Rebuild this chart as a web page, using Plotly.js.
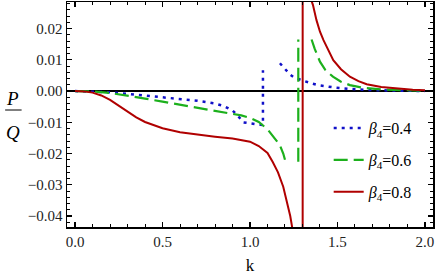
<!DOCTYPE html>
<html>
<head>
<meta charset="utf-8">
<script src="https://cdn.plot.ly/plotly-3.0.1.min.js"></script>
<style>html,body{margin:0;padding:0;background:#fff;}</style>
</head>
<body>
<div id="chart" style="width:436px;height:276px;"></div>
<script>
// beta4 = 0.4 (blue, dotted)
const kBlue = [0, 0.1, 0.2, 0.3, 0.4, 0.5, 0.6, 0.7, 0.8, 0.85, 0.9, 0.93, 0.96, 1.02, 1.074, 1.074, null,
  1.171, 1.19, 1.21, 1.23, 1.25, 1.27, 1.295, 1.343, 1.39, 1.474, 1.57, 1.7, 1.85, 2.0];
const pBlue = [0, -0.0001, -0.0004, -0.0009, -0.0014, -0.0020, -0.0025, -0.0031, -0.0040, -0.0048, -0.0062, -0.0078, -0.0100, -0.0105, -0.0109, 0.0067, null,
  0.0089, 0.0076, 0.0063, 0.0052, 0.0044, 0.0039, 0.0035, 0.0026, 0.0019, 0.0012, 0.0007, 0.0003, 0.0001, 0.0];

// beta4 = 0.6 (green, dashed)
const kGreen = [0, 0.1, 0.2, 0.3, 0.4, 0.5, 0.6, 0.7, 0.8, 0.9, 0.95, 1.0, 1.05, 1.1, 1.14, 1.17, 1.19, 1.205, null,
  1.276, 1.276, null,
  1.352, 1.37, 1.4, 1.43, 1.474, 1.52, 1.571, 1.65, 1.76, 1.88, 2.0];
const pGreen = [0, -0.0001, -0.0006, -0.0014, -0.0024, -0.0034, -0.0044, -0.0053, -0.0062, -0.0072, -0.0078, -0.0086, -0.0099, -0.0122, -0.0150, -0.0172, -0.0200, -0.0230, null,
  -0.0226, 0.0165, null,
  0.0165, 0.0135, 0.0094, 0.0068, 0.0046, 0.0030, 0.0019, 0.0010, 0.0005, 0.0002, 0.0001];

// beta4 = 0.8 (red, solid)
const kRed = [0, 0.05, 0.1, 0.15, 0.2, 0.25, 0.3, 0.35, 0.4, 0.45, 0.5, 0.6, 0.7, 0.8, 0.9, 0.95, 1.0, 1.05, 1.1, 1.13, 1.16, 1.19, 1.21, 1.23, 1.25, null,
  1.301, 1.301, null,
  1.345, 1.36, 1.38, 1.4, 1.42, 1.45, 1.476, 1.52, 1.571, 1.62, 1.667, 1.75, 1.857, 1.93, 2.0];
const pRed = [0, -0.0001, -0.0005, -0.0014, -0.0028, -0.0046, -0.0066, -0.0084, -0.0099, -0.0110, -0.0119, -0.0132, -0.0140, -0.0146, -0.0152, -0.0156, -0.0162, -0.0176, -0.0198, -0.0227, -0.0260, -0.0306, -0.0350, -0.0400, -0.0465, null,
  -0.050, 0.030, null,
  0.0300, 0.0275, 0.0227, 0.0190, 0.0163, 0.0127, 0.0099, 0.0070, 0.0046, 0.0032, 0.0022, 0.0013, 0.0007, 0.0004, 0.0003];

const seriesNames = ['<i>β</i><sub>4</sub>=0.4', '<i>β</i><sub>4</sub>=0.6', '<i>β</i><sub>4</sub>=0.8'];

const serif = '"Liberation Serif", "Times New Roman", serif';

const traces = [
  {x: kBlue, y: pBlue, mode: 'lines', name: seriesNames[0], legendgroup: 'a', connectgaps: false,
   line: {color: '#1010c8', width: 2.5, dash: '3px,5px'}},
  {x: kGreen, y: pGreen, mode: 'lines', name: seriesNames[1], legendgroup: 'b', connectgaps: false,
   line: {color: '#1cb01c', width: 2.2, dash: '14px,6px'}},
  {x: kRed, y: pRed, mode: 'lines', name: seriesNames[2], legendgroup: 'c', connectgaps: false,
   line: {color: '#b00000', width: 2}}
];

const layout = {
  width: 436, height: 276,
  margin: {l: 67, r: 3, t: 2, b: 49},
  paper_bgcolor: '#fff', plot_bgcolor: '#fff',
  font: {family: serif, size: 15, color: '#000'},
  showlegend: true,
  legend: {x: 0.715, y: 0.515, xanchor: 'left', yanchor: 'top', bgcolor: 'rgba(0,0,0,0)',
           font: {family: serif, size: 16, color: '#000'}, traceorder: 'grouped', tracegroupgap: 8, itemwidth: 30},
  xaxis: {
    range: [-0.046, 2.046], dtick: 0.5, tick0: 0, tickformat: '.1f',
    ticks: 'inside', ticklen: 5, tickwidth: 1.2, tickcolor: '#000',
    minor: {dtick: 0.1, ticks: 'inside', ticklen: 3, tickwidth: 1, tickcolor: '#000'},
    showline: true, linecolor: '#000', linewidth: 1.5, mirror: 'allticks',
    showgrid: false, zeroline: false,
    tickfont: {family: serif, size: 15, color: '#222'},
    title: {text: 'k', font: {family: serif, size: 17, color: '#000'}, standoff: 10}
  },
  yaxis: {
    range: [-0.0435, 0.0285], dtick: 0.01, tick0: 0, tickformat: '.2f',
    ticks: 'inside', ticklen: 5, tickwidth: 1.2, tickcolor: '#000',
    minor: {dtick: 0.002, ticks: 'inside', ticklen: 3, tickwidth: 1, tickcolor: '#000'},
    showline: true, linecolor: '#000', linewidth: 1.5, mirror: 'allticks',
    showgrid: false, zeroline: true, zerolinecolor: '#000', zerolinewidth: 1.6,
    tickfont: {family: serif, size: 15, color: '#222'}
  },
  annotations: [
    {text: '<i>P</i>', xref: 'paper', yref: 'paper', x: -0.149, y: 0.570, showarrow: false,
     font: {family: serif, size: 19, color: '#000'}, xanchor: 'center', yanchor: 'middle'},
    {text: '<i>Q</i>', xref: 'paper', yref: 'paper', x: -0.147, y: 0.418, showarrow: false,
     font: {family: serif, size: 19, color: '#000'}, xanchor: 'center', yanchor: 'middle'}
  ],
  shapes: [
    {type: 'line', xref: 'paper', yref: 'paper', x0: -0.169, x1: -0.124, y0: 0.52, y1: 0.52,
     line: {color: '#000', width: 1}}
  ]
};

Plotly.newPlot('chart', traces, layout, {displayModeBar: false, staticPlot: true});
</script>
</body>
</html>
